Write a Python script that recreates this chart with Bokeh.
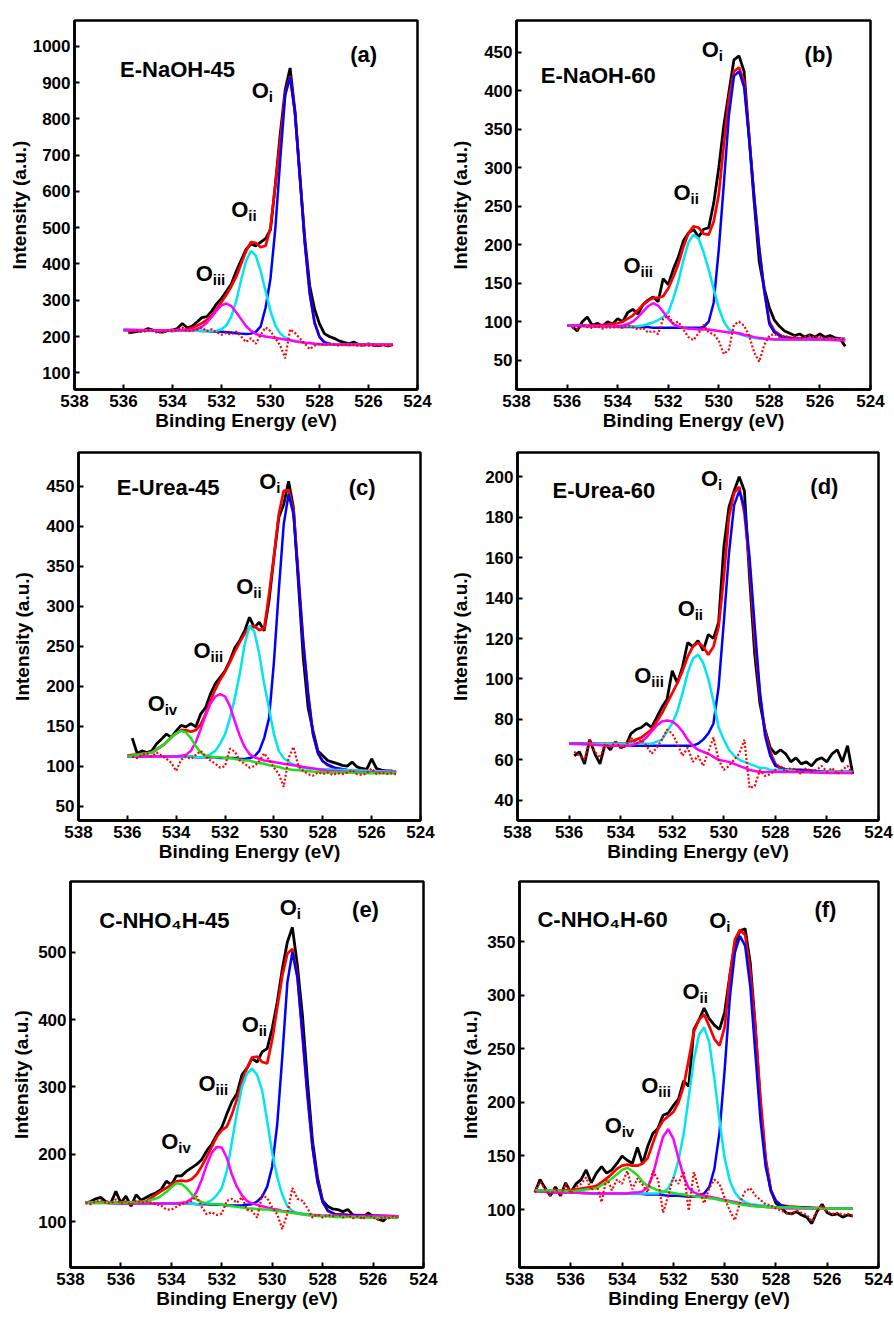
from bokeh.plotting import figure
from bokeh.layouts import column, row
from bokeh.models import Range1d, FixedTicker, Label
from bokeh.embed import file_html
from bokeh.resources import INLINE

# ---------------- data ----------------
X_TICKS = [538, 536, 534, 532, 530, 528, 526, 524]

ENERGY_RAW = [535.8, 535.6, 535.4, 535.2, 535.0, 534.8, 534.6, 534.4, 534.2, 534.0,
              533.8, 533.6, 533.4, 533.2, 533.0, 532.8, 532.6, 532.4, 532.2, 532.0,
              531.8, 531.6, 531.4, 531.2, 531.0, 530.8, 530.6, 530.4, 530.2, 530.0,
              529.8, 529.6, 529.4, 529.2, 529.0, 528.8, 528.6, 528.4, 528.2, 528.0,
              527.8, 527.6, 527.4, 527.2, 527.0, 526.8, 526.6, 526.4, 526.2, 526.0,
              525.8, 525.6, 525.4, 525.2, 525.0]
ENERGY_RAW_LONG = [537.4, 537.2, 537.0, 536.8, 536.6, 536.4, 536.2, 536.0, 535.8, 535.6,
                   535.4, 535.2, 535.0, 534.8, 534.6, 534.4, 534.2, 534.0, 533.8, 533.6,
                   533.4, 533.2, 533.0, 532.8, 532.6, 532.4, 532.2, 532.0, 531.8, 531.6,
                   531.4, 531.2, 531.0, 530.8, 530.6, 530.4, 530.2, 530.0, 529.8, 529.6,
                   529.4, 529.2, 529.0, 528.8, 528.6, 528.4, 528.2, 528.0, 527.8, 527.6,
                   527.4, 527.2, 527.0, 526.8, 526.6, 526.4, 526.2, 526.0, 525.8, 525.6,
                   525.4, 525.2, 525.0]
ENERGY_FIT = [536.0, 535.0, 534.5, 534.2, 534.0, 533.8, 533.6, 533.4, 533.2, 533.0,
              532.8, 532.6, 532.4, 532.2, 532.0, 531.8, 531.6, 531.4, 531.2, 531.0,
              530.8, 530.6, 530.4, 530.2, 530.0, 529.8, 529.6, 529.4, 529.2, 529.0,
              528.8, 528.6, 528.4, 528.2, 528.0, 527.8, 527.5, 527.0, 526.0, 525.0]
ENERGY_FIT_LONG = [537.4, 536.5, 536.0, 535.0, 534.5, 534.2, 534.0, 533.8, 533.6, 533.4,
                   533.2, 533.0, 532.8, 532.6, 532.4, 532.2, 532.0, 531.8, 531.6, 531.4,
                   531.2, 531.0, 530.8, 530.6, 530.4, 530.2, 530.0, 529.8, 529.6, 529.4,
                   529.2, 529.0, 528.8, 528.6, 528.4, 528.2, 528.0, 527.8, 527.5, 527.0,
                   526.0, 525.0]

# (a) E-NaOH-45
A_YTICKS = [100, 200, 300, 400, 500, 600, 700, 800, 900, 1000]
A_RAW = [210, 212, 214, 216, 222, 218, 214, 212, 216, 218,
         222, 236, 224, 228, 240, 252, 255, 270, 290, 305,
         325, 345, 380, 410, 440, 455, 450, 460, 470, 495,
         620, 760, 880, 940, 820, 640, 470, 340, 275, 235,
         208, 200, 195, 188, 184, 180, 185, 178, 176, 180,
         176, 175, 178, 174, 178]
A_RES = [210, 214, 216, 212, 218, 215, 210, 212, 216, 214,
         218, 225, 214, 216, 219, 225, 215, 220, 212, 205,
         210, 205, 214, 200, 185, 195, 180, 205, 225, 215,
         195, 175, 140, 220, 210, 195, 180, 165, 175, 180,
         176, 180, 178, 175, 180, 176, 178, 174, 177, 175,
         178, 173, 176, 175, 177]
A_FIT = [218, 217, 217, 217, 217, 218, 218, 220, 224, 230,
         237, 246, 258, 276, 295, 315, 338, 365, 400, 435,
         460, 458, 446, 450, 500, 620, 740, 870, 918, 817,
         642, 459, 320, 238, 199, 184, 178, 177, 177, 177]
A_OI = [218, 217, 217, 217, 217, 217, 217, 216, 216, 216,
        215, 215, 214, 214, 213, 212, 211, 209, 208, 207,
        208, 213, 228, 280, 360, 500, 690, 865, 915, 817,
        642, 459, 320, 238, 199, 184, 178, 177, 177, 177]
A_OII = [218, 217, 217, 217, 217, 217, 217, 216, 216, 216,
         215, 215, 215, 216, 220, 231, 255, 298, 355, 408,
         436, 423, 380, 325, 270, 230, 208, 197, 191, 187,
         185, 183, 182, 180, 179, 178, 178, 177, 177, 177]
A_OIII = [218, 217, 217, 217, 217, 217, 217, 217, 218, 221,
          227, 238, 254, 272, 286, 291, 284, 267, 248, 229,
          216, 207, 203, 200, 198, 196, 194, 192, 190, 187,
          185, 183, 182, 180, 179, 178, 178, 177, 177, 177]

# (b) E-NaOH-60
B_YTICKS = [50, 100, 150, 200, 250, 300, 350, 400, 450]
B_RAW = [94, 88, 100, 106, 95, 98, 94, 100, 97, 104,
         100, 112, 116, 110, 122, 128, 132, 126, 156, 148,
         168, 184, 205, 215, 220, 210, 220, 222, 254, 300,
         355, 398, 440, 445, 425, 340, 255, 178, 143, 118,
         102, 94, 88, 85, 82, 84, 80, 83, 80, 84,
         80, 82, 79, 78, 68]
B_RES = [92, 90, 95, 93, 92, 94, 91, 93, 92, 94,
         92, 95, 93, 90, 92, 86, 88, 84, 104, 108,
         98, 100, 90, 80, 76, 85, 96, 86, 84, 75,
         58, 64, 96, 100, 95, 82, 60, 48, 70, 82,
         84, 80, 82, 79, 81, 78, 80, 82, 79, 81,
         78, 80, 77, 79, 76]
B_FIT = [95, 95, 96, 97, 98, 100, 104, 108, 115, 122,
         127, 131, 131, 133, 143, 158, 175, 197, 215, 224,
         222, 214, 213, 230, 265, 330, 390, 425, 430, 412,
         340, 262, 195, 140, 100, 88, 81, 78, 77, 76]
B_OI = [95, 94, 94, 94, 93, 93, 93, 93, 93, 93,
        93, 92, 92, 92, 92, 92, 92, 92, 92, 92,
        92, 93, 100, 125, 194, 279, 368, 419, 425, 405,
        338, 262, 195, 140, 97, 86, 80, 78, 78, 78]
B_OII = [95, 94, 94, 94, 94, 94, 94, 94, 94, 95,
         97, 99, 102, 106, 112, 130, 152, 180, 203, 213,
         208, 190, 168, 142, 118, 100, 90, 86, 84, 82,
         80, 79, 78, 78, 77, 77, 77, 77, 77, 77]
B_OIII = [95, 94, 94, 94, 94, 95, 97, 100, 106, 113,
          120, 124, 121, 113, 104, 97, 94, 92, 91, 91,
          90, 90, 90, 89, 88, 87, 86, 86, 85, 83,
          82, 80, 79, 78, 78, 77, 77, 77, 77, 76]

# (c) E-Urea-45
C_YTICKS = [50, 100, 150, 200, 250, 300, 350, 400, 450]
C_RAW = [135, 116, 119, 117, 119, 128, 134, 140, 136, 144,
         151, 149, 153, 149, 165, 173, 190, 203, 211, 219,
         232, 248, 257, 269, 286, 273, 280, 269, 307, 361,
         411, 427, 456, 423, 330, 236, 173, 144, 119, 113,
         107, 105, 103, 101, 100, 105, 99, 97, 96, 109,
         97, 95, 94, 94, 92]
C_RES = [112, 110, 114, 116, 112, 117, 113, 109, 104, 94,
         108, 112, 109, 114, 119, 112, 107, 103, 98, 100,
         122, 118, 107, 103, 98, 100, 106, 116, 108, 98,
         90, 74, 110, 124, 100, 94, 90, 88, 92, 90,
         92, 89, 91, 90, 92, 95, 90, 89, 91, 97,
         90, 92, 90, 91, 90]
C_FIT = [113, 117, 127, 136, 141, 145, 145, 143, 145, 152,
         165, 182, 196, 208, 218, 230, 243, 255, 265, 274,
         275, 270, 272, 315, 362, 415, 444, 445, 420, 340,
         255, 190, 140, 117, 106, 101, 97, 95, 93, 93]
C_OI = [112, 112, 112, 112, 112, 112, 112, 112, 111, 111,
        111, 111, 111, 110, 110, 110, 110, 109, 109, 110,
        112, 119, 135, 160, 230, 320, 402, 440, 415, 335,
        255, 190, 140, 116, 106, 102, 98, 95, 93, 92]
C_OII = [112, 112, 112, 112, 112, 112, 112, 112, 111, 111,
         112, 115, 119, 128, 140, 160, 185, 215, 252, 275,
         268, 240, 203, 172, 140, 119, 110, 105, 102, 99,
         98, 97, 97, 96, 96, 96, 95, 95, 94, 93]
C_OIII = [112, 112, 112, 112, 112, 113, 114, 119, 130, 146,
          163, 178, 187, 190, 187, 175, 156, 138, 124, 115,
          111, 109, 107, 106, 105, 104, 103, 102, 101, 100,
          99, 98, 97, 96, 95, 94, 94, 93, 92, 92]
C_OIV = [112, 117, 127, 136, 141, 144, 142, 135, 125, 117,
         113, 112, 111, 111, 110, 110, 109, 108, 107, 107,
         105, 104, 103, 101, 100, 99, 97, 96, 95, 95,
         94, 94, 93, 93, 92, 92, 92, 92, 91, 91]

# (d) E-Urea-60
D_YTICKS = [40, 60, 80, 100, 120, 140, 160, 180, 200]
D_RAW = [62, 64, 58, 70, 63, 58, 68, 65, 69, 66,
         67, 73, 75, 76, 78, 76, 81, 86, 90, 104,
         98, 106, 118, 116, 119, 114, 122, 120, 128, 165,
         185, 193, 200, 193, 150, 112, 88, 75, 66, 63,
         65, 63, 59, 61, 58, 59, 57, 60, 61, 59,
         63, 65, 59, 67, 53]
D_RES = [64, 62, 60, 70, 64, 61, 68, 66, 69, 66,
         67, 71, 68, 70, 67, 63, 66, 70, 75, 73,
         68, 62, 66, 59, 62, 57, 64, 71, 60, 55,
         57, 60, 63, 70, 46, 47, 55, 52, 53, 55,
         57, 54, 56, 55, 53, 56, 54, 55, 57, 54,
         56, 53, 55, 57, 53]
D_FIT = [68, 68, 68, 68, 68, 68, 69, 70, 71, 73,
         75, 79, 83, 88, 93, 98, 104, 111, 116, 118,
         116, 112, 116, 126, 150, 180, 192, 195, 182, 156,
         120, 92, 74, 64, 58, 56, 55, 55, 54, 54]
D_OI = [68, 68, 67, 67, 67, 67, 67, 67, 67, 67,
        67, 67, 67, 67, 67, 67, 67, 67, 67, 68,
        70, 73, 78, 96, 128, 162, 186, 193, 185, 160,
        126, 94, 72, 62, 57, 56, 55, 55, 54, 54]
D_OII = [68, 68, 68, 68, 68, 68, 68, 68, 68, 68,
         68, 69, 70, 74, 78, 84, 93, 103, 110, 112,
         108, 100, 89, 76, 70, 65, 62, 60, 59, 58,
         57, 56, 56, 55, 55, 55, 55, 54, 54, 54]
D_OIII = [68, 67.5, 67, 67, 67, 67, 67, 68, 69, 71,
          74, 77, 79, 79.5, 79, 77, 74, 70, 67, 65,
          64, 63, 61.5, 60, 59.5, 59, 58, 57, 56, 55,
          54.5, 54, 54, 54, 54, 54, 54, 54, 53.5, 53.5]

# (e) C-NHO4H-45
E_YTICKS = [100, 200, 300, 400, 500]
E_RAW = [128, 130, 134, 136, 130, 128, 145, 128, 138, 123,
         140, 132, 136, 140, 143, 148, 160, 155, 168, 168,
         175, 180, 185, 192, 205, 215, 229, 240, 260, 278,
         290, 318, 328, 342, 337, 352, 357, 387, 426, 475,
         515, 537, 480, 406, 308, 219, 165, 131, 123, 119,
         118, 115, 118, 110, 108, 106, 113, 108, 104, 101,
         108, 106, 108]
E_RES = [128, 126, 130, 132, 128, 127, 133, 127, 130, 125,
         131, 128, 130, 128, 126, 124, 118, 118, 122, 126,
         128, 131, 138, 122, 111, 114, 110, 112, 131, 134,
         128, 136, 118, 116, 106, 140, 135, 121, 111, 89,
         112, 150, 134, 131, 120, 106, 111, 106, 110, 108,
         112, 106, 110, 105, 108, 104, 110, 106, 103, 107,
         105, 108, 106]
E_FIT = [128, 128, 128, 130, 143, 150, 155, 160, 161, 160,
         163, 170, 182, 196, 211, 226, 236, 241, 259, 282,
         308, 328, 344, 345, 337, 335, 370, 418, 465, 498,
         505, 465, 375, 285, 210, 160, 130, 116, 111, 110,
         109, 108]
E_OI = [128, 128, 127, 127, 127, 127, 127, 127, 127, 127,
        127, 126, 126, 126, 125, 125, 125, 124, 124, 124,
        124, 125, 126, 130, 137, 152, 182, 245, 345, 455,
        500, 462, 380, 290, 210, 158, 129, 117, 111, 110,
        109, 108]
E_OII = [128, 128, 127, 127, 127, 127, 127, 127, 127, 127,
         127, 126, 127, 128, 132, 139, 150, 175, 218, 262,
         300, 320, 327, 318, 295, 250, 202, 166, 140, 123,
         116, 113, 112, 111, 110, 110, 109, 109, 109, 108,
         108, 108]
E_OIII = [128, 128, 127, 127, 127, 127, 127, 127, 128, 129,
          134, 144, 162, 184, 202, 211, 210, 195, 170, 152,
          139, 131, 127, 125, 123, 121, 119, 118, 116, 115,
          114, 112, 111, 110, 110, 109.5, 109, 109, 108, 108,
          108, 108]
E_OIV = [128, 128, 128, 130, 136, 144, 151, 157, 156, 150,
         141, 133, 129, 127, 126, 126, 125, 124, 123, 122,
         121, 120, 119.5, 119, 118, 118, 117, 116, 115, 114,
         113, 112, 111, 110, 109, 108.5, 108, 108, 107, 107,
         106, 106]

# (f) C-NHO4H-60
F_YTICKS = [100, 150, 200, 250, 300, 350]
F_RAW = [116, 128, 120, 113, 121, 113, 125, 116, 124, 128,
         137, 125, 134, 140, 134, 137, 143, 150, 146, 143,
         158, 143, 159, 171, 176, 188, 190, 197, 203, 220,
         215, 268, 277, 288, 278, 272, 268, 284, 318, 348,
         360, 362, 330, 270, 196, 145, 118, 106, 102, 97,
         96, 98, 95, 93, 87, 98, 105, 97, 95, 96,
         93, 95, 94]
F_RES = [116, 126, 119, 113, 120, 113, 124, 115, 121, 124,
         130, 118, 124, 107, 130, 118, 128, 124, 136, 119,
         129, 123, 116, 136, 128, 97, 113, 130, 124, 136,
         99, 135, 118, 106, 120, 128, 124, 111, 99, 90,
         107, 117, 120, 113, 109, 105, 104, 101, 99, 97,
         96, 99, 97, 95, 89, 99, 104, 98, 96, 97,
         95, 96, 94]
F_FIT = [118, 118, 118, 122, 131, 138, 141, 142, 141, 141,
         143, 148, 162, 175, 183, 187, 191, 200, 215, 240,
         266, 277, 282, 271, 259, 253, 270, 318, 352, 361,
         356, 322, 268, 203, 148, 118, 108, 104, 103, 102,
         101, 101]
F_OI = [117, 116, 116, 115, 115, 115, 115, 115, 115, 115,
        114.5, 114, 114, 114, 113.5, 113, 113, 113, 112.5, 112,
        112, 113, 115, 121, 138, 172, 230, 297, 340, 355,
        346, 308, 245, 183, 140, 118, 108, 104, 102, 102,
        101, 101]
F_OII = [117, 116, 116, 115, 115, 115, 115, 115, 115, 115,
         115, 115, 115, 115, 116, 120, 129, 146, 170, 205,
         240, 263, 270, 256, 222, 183, 148, 127, 116, 110,
         107, 105, 104.5, 104, 103.5, 103, 102.5, 102, 102, 101.5,
         101, 101]
F_OIII = [117, 116, 116, 115, 115, 115, 115, 115, 116, 116,
          117, 121, 132, 151, 168, 175, 166, 148, 131, 120,
          116, 114, 113, 112, 111, 110, 109, 108, 107, 106,
          105, 104, 103.5, 103, 102.5, 102, 102, 101.5, 101, 101,
          101, 101]
F_OIV = [118, 118, 117, 120, 127, 133, 137, 139, 136, 132,
         126, 122, 120, 118, 117, 116.5, 115.5, 114.5, 114, 113,
         112.5, 112, 111, 110.5, 110, 109, 108, 107, 106, 105,
         104, 103.5, 103, 103, 102.5, 102.5, 102, 102, 102, 101.5,
         101, 101]

# ---------------- styling / layout ----------------
FONT = "Liberation Sans"
COMP_COLORS = ["#0000ff", "#00e5ee", "#ff00ff", "#1ee01e"]

PANELS = [
    dict(raw=A_RAW, res=A_RES, fit=A_FIT, comps=[A_OI, A_OII, A_OIII],
         er=ENERGY_RAW, ef=ENERGY_FIT, yr=(54, 1071), yt=A_YTICKS,
         w=447, h=444, bl=74, br=30, bt=16, bb=55, lstand=0,
         name=("E-NaOH-45", 536.14, 936), letter=("(a)", 526.2, 977),
         olabels=[("i", 530.77, 879), ("ii", 531.6, 550), ("iii", 533.05, 373)]),
    dict(raw=B_RAW, res=B_RES, fit=B_FIT, comps=[B_OI, B_OII, B_OIII],
         er=ENERGY_RAW, ef=ENERGY_FIT, yr=(12, 491), yt=B_YTICKS,
         w=447, h=444, bl=68, br=24, bt=20, bb=47, lstand=10,
         name=("E-NaOH-60", 537.04, 419), letter=("(b)", 526.05, 447),
         olabels=[("i", 530.67, 453), ("ii", 531.79, 268), ("iii", 533.77, 173)]),
    dict(raw=C_RAW, res=C_RES, fit=C_FIT, comps=[C_OI, C_OII, C_OIII, C_OIV],
         er=ENERGY_RAW, ef=ENERGY_FIT, yr=(32, 492), yt=C_YTICKS,
         w=447, h=436, bl=78, br=27, bt=7, bb=60, lstand=10,
         name=("E-Urea-45", 536.43, 448), letter=("(c)", 526.39, 448),
         olabels=[("i", 530.6, 456), ("ii", 531.54, 325), ("iii", 533.29, 244), ("iv", 535.17, 178)]),
    dict(raw=D_RAW, res=D_RES, fit=D_FIT, comps=[D_OI, D_OII, D_OIII],
         er=ENERGY_RAW, ef=ENERGY_FIT, yr=(30, 212), yt=D_YTICKS,
         w=447, h=436, bl=70, br=16, bt=8, bb=55, lstand=11,
         name=("E-Urea-60", 536.64, 193), letter=("(d)", 526.1, 195),
         olabels=[("i", 530.88, 199), ("ii", 531.79, 135), ("iii", 533.47, 101.5)]),
    dict(raw=E_RAW, res=E_RES, fit=E_FIT, comps=[E_OI, E_OII, E_OIII, E_OIV],
         er=ENERGY_RAW_LONG, ef=ENERGY_FIT_LONG, yr=(32, 605), yt=E_YTICKS,
         w=447, h=438, bl=70, br=24, bt=1, bb=51, lstand=3,
         name=("C-NHO\u2084H-45", 536.86, 547), letter=("(e)", 526.3, 564),
         olabels=[("i", 529.7, 566), ("ii", 531.21, 392), ("iii", 532.92, 305), ("iv", 534.4, 219)]),
    dict(raw=F_RAW, res=F_RES, fit=F_FIT, comps=[F_OI, F_OII, F_OIII, F_OIV],
         er=ENERGY_RAW_LONG, ef=ENERGY_FIT_LONG, yr=(46, 406), yt=F_YTICKS,
         w=447, h=438, bl=72, br=16, bt=1, bb=45, lstand=3,
         name=("C-NHO\u2084H-60", 537.3, 371), letter=("(f)", 526.07, 380),
         olabels=[("i", 530.6, 370), ("ii", 531.64, 303), ("iii", 533.25, 216), ("iv", 534.68, 178)]),
]


def build(cfg):
    p = figure(width=cfg["w"], height=cfg["h"],
               x_range=Range1d(538, 524), y_range=Range1d(*cfg["yr"]),
               output_backend="svg", toolbar_location=None,
               min_border_left=cfg["bl"], min_border_right=cfg["br"],
               min_border_top=cfg["bt"], min_border_bottom=cfg["bb"])
    p.background_fill_color = "white"
    p.border_fill_color = "white"
    p.outline_line_color = "black"
    p.outline_line_width = 2.5
    p.xgrid.visible = False
    p.ygrid.visible = False
    for ax in (p.xaxis[0], p.yaxis[0]):
        ax.axis_line_color = "black"
        ax.axis_line_width = 2.5
        ax.major_tick_in = 5
        ax.major_tick_out = 0
        ax.major_tick_line_width = 2
        ax.minor_tick_in = 0
        ax.minor_tick_out = 0
        ax.major_label_text_font = FONT
        ax.major_label_text_font_style = "bold"
        ax.major_label_text_font_size = "17px"
        ax.major_label_text_color = "black"
        ax.axis_label_text_font = FONT
        ax.axis_label_text_font_style = "bold"
        ax.axis_label_text_font_size = "19px"
        ax.axis_label_text_color = "black"
    p.xaxis.ticker = FixedTicker(ticks=X_TICKS)
    p.yaxis.ticker = FixedTicker(ticks=cfg["yt"])
    p.xaxis.axis_label = "Binding Energy (eV)"
    p.yaxis.axis_label = "Intensity (a.u.)"
    p.xaxis.major_label_standoff = 5
    p.xaxis.axis_label_standoff = 0
    p.yaxis.major_label_standoff = 4
    p.yaxis.axis_label_standoff = cfg["lstand"]

    p.line(cfg["er"], cfg["raw"], line_color="black", line_width=2.8)
    p.line(cfg["ef"], cfg["fit"], line_color="#ff0000", line_width=2.7)
    for vals, col in zip(cfg["comps"], COMP_COLORS):
        p.line(cfg["ef"], vals, line_color=col, line_width=2.5)
    p.line(cfg["er"], cfg["res"], line_color="#ff0000", line_width=2.2, line_dash="2 2")

    txt, x, y = cfg["name"]
    p.add_layout(Label(x=x, y=y, text=txt, text_font=FONT, text_font_style="bold",
                       text_font_size="22px", text_align="left", text_baseline="middle",
                       text_color="black"))
    txt, x, y = cfg["letter"]
    p.add_layout(Label(x=x, y=y, text=txt, text_font=FONT, text_font_style="bold",
                       text_font_size="22px", text_align="center", text_baseline="middle",
                       text_color="black"))
    for sub, x, y in cfg["olabels"]:
        p.add_layout(Label(x=x, y=y, text="O", text_font=FONT, text_font_style="bold",
                           text_font_size="22px", text_align="left", text_baseline="middle",
                           text_color="black"))
        p.add_layout(Label(x=x, y=y, text=sub, text_font=FONT, text_font_style="bold",
                           text_font_size="15px", text_align="left", text_baseline="middle",
                           x_offset=17, y_offset=-6, text_color="black"))
    return p


figs = [build(c) for c in PANELS]
layout = column(row(figs[0], figs[1]), row(figs[2], figs[3]), row(figs[4], figs[5]))

with open("out.html", "w") as f:
    f.write(file_html(layout, INLINE))
